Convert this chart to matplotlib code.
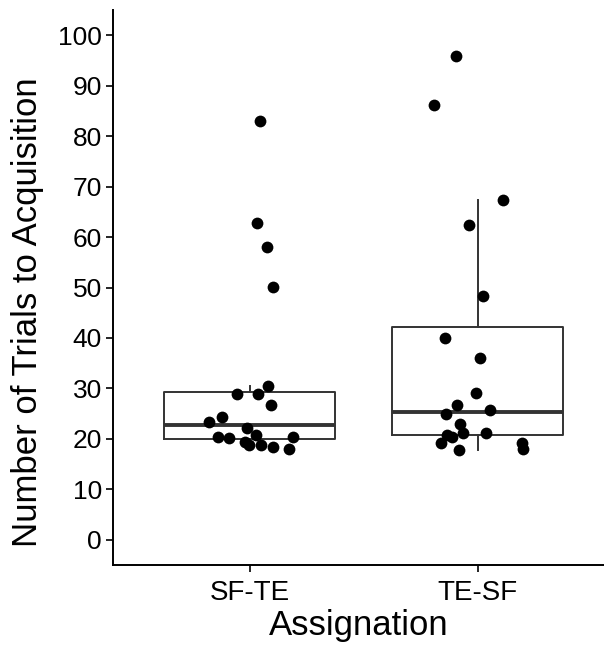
import numpy as np
import matplotlib
matplotlib.use("Agg")
import matplotlib.pyplot as plt

plt.rcParams['font.family'] = ['Liberation Sans', 'DejaVu Sans']

groups = ["SF-TE", "TE-SF"]

# trials to acquisition
sf_te = [83.0, 62.7, 58.0, 50.1, 30.4, 28.9, 28.8, 26.7, 24.4, 23.4,
         22.2, 20.7, 20.3, 20.1, 20.3, 19.3, 18.8, 18.7, 18.3, 17.9]
te_sf = [95.9, 86.2, 67.3, 62.3, 48.3, 40.0, 36.0, 29.0, 26.8, 25.7,
         25.0, 22.9, 21.1, 21.2, 20.8, 20.4, 19.1, 19.1, 17.9, 17.8]

# horizontal jitter of each point (category units)
jit_sf_te = [0.044, 0.031, 0.075, 0.101, 0.079, -0.057, 0.035, 0.092, -0.123, -0.180,
             -0.013, 0.026, -0.140, -0.092, 0.189, -0.022, -0.004, 0.048, 0.101, 0.171]
jit_te_sf = [-0.096, -0.193, 0.110, -0.039, 0.022, -0.145, 0.009, -0.009, -0.092, 0.053,
             -0.140, -0.079, -0.066, 0.035, -0.136, -0.114, -0.162, 0.193, 0.197, -0.083]

data = [sf_te, te_sf]
jitter = [jit_sf_te, jit_te_sf]

fig = plt.figure(figsize=(6.04, 6.46), dpi=100)
ax = fig.add_axes([0.187, 0.1254, 0.813, 0.8591])

box_col = "#333333"
ax.boxplot(data, positions=[1, 2], widths=0.75, whis=1.5, showfliers=False,
           patch_artist=False,
           boxprops=dict(color=box_col, linewidth=1.4),
           whiskerprops=dict(color=box_col, linewidth=1.4),
           capprops=dict(linewidth=0),
           medianprops=dict(color=box_col, linewidth=2.8))

for i, (vals, jit) in enumerate(zip(data, jitter)):
    xs = np.array(jit) + i + 1
    ax.scatter(xs, vals, s=72, color="black", zorder=3, linewidths=0)

ax.set_xlim(0.4, 2.553)
ax.set_ylim(-5, 105)
ax.set_yticks(range(0, 101, 10))
ax.set_xticks([1, 2])
ax.set_xticklabels(groups)

for s in ["top", "right"]:
    ax.spines[s].set_visible(False)
for s in ["left", "bottom"]:
    ax.spines[s].set_linewidth(1.4)
    ax.spines[s].set_color("black")

ax.tick_params(axis="both", length=5, width=1.2, labelsize=19, pad=3, colors="black")
ax.tick_params(axis="x", labelsize=20, pad=6)
ax.set_xlabel("Assignation", fontsize=25, labelpad=2)
ax.set_ylabel("Number of Trials to Acquisition", fontsize=25)
ax.yaxis.set_label_coords(-0.14, 0.456)

fig.savefig("out.png", dpi=100)
